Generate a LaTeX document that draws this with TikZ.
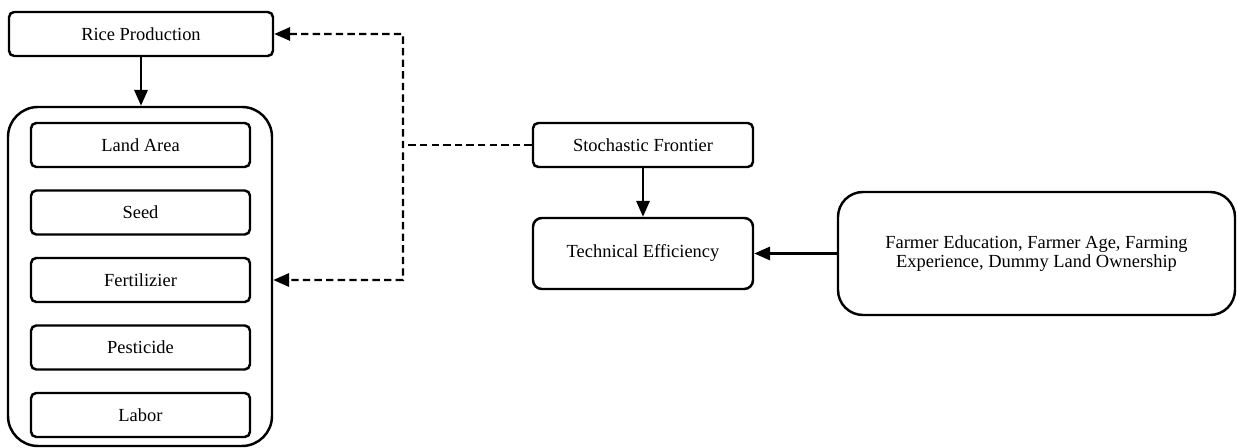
\documentclass[tikz,border=0pt]{standalone}
\usepackage{fontspec}
\setmainfont{Liberation Serif}
\usetikzlibrary{arrows.meta}

\begin{document}
\begin{tikzpicture}[
    font=\fontsize{10.5}{9.1}\selectfont,
    line width=1.4pt,
    scatola/.style={draw,rounded corners=3pt,inner sep=0pt,align=center},
    voce/.style={scatola,minimum width=4.38cm,minimum height=0.88cm},
    freccia/.style={-{Triangle[length=9pt,width=7.5pt]}},
    tratt/.style={dash pattern=on 4.2pt off 2.4pt},
  ]

  \useasboundingbox (0,0) rectangle (24.74,8.96);

  \def\dy{1.35}   % passo fra le voci

  % ---- produzione e contenitore dei fattori ---------------------------------
  \node[scatola,minimum width=5.28cm,minimum height=0.88cm] (riso) at (2.82,8.28)
    {Rice Production};
  \node[draw,rounded corners=0.6cm,minimum width=5.28cm,minimum height=6.78cm]
    (fattori) at (2.80,3.43) {};

  % ---- le voci dentro il contenitore ----------------------------------------
  \foreach \t [count=\k from 0] in {Land Area,Seed,Fertilizier,Pesticide,Labor}
    \node[voce] (v\k) at (2.81,{6.06-\k*\dy}) {\t};

  % ---- frontiera ed efficienza ----------------------------------------------
  \node[scatola,minimum width=4.4cm,minimum height=0.88cm] (sf) at (12.86,6.06)
    {Stochastic Frontier};
  \node[scatola,rounded corners=5pt,minimum width=4.4cm,minimum height=1.42cm]
    (te) at (12.86,3.89) {Technical Efficiency};
  \node[scatola,rounded corners=0.5cm,minimum width=7.94cm,minimum height=2.46cm]
    (agri) at (20.73,3.89)
    {Farmer Education, Farmer Age, Farming\\Experience, Dummy Land Ownership};

  % ---- frecce piene ---------------------------------------------------------
  \draw[freccia] (riso.south) -- (riso.south |- fattori.north);
  \draw[freccia] (sf) -- (te);
  \draw[freccia] (agri) -- (te);

  % ---- collegamento tratteggiato --------------------------------------------
  \coordinate (alto)  at (8.06,8.28);
  \coordinate (basso) at (8.06,3.36);
  \draw[tratt,{Triangle[length=9pt,width=7.5pt]}-{Triangle[length=9pt,width=7.5pt]}]
    (riso.east) -- (alto) -- (basso) -- (fattori.east |- v2);
  \draw[tratt] (sf.west) -- (sf.west -| alto);

\end{tikzpicture}
\end{document}
